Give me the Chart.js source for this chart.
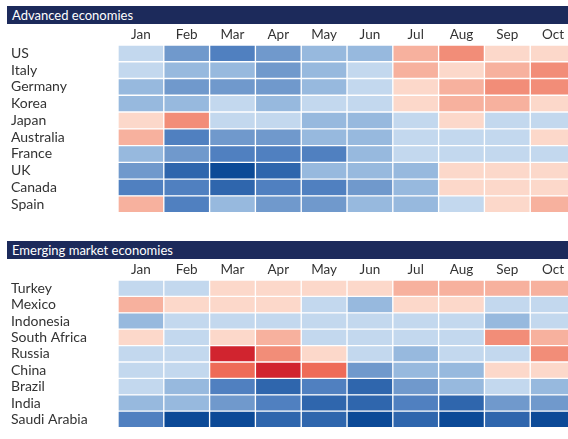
<!DOCTYPE html>
<html>
<head>
<meta charset="utf-8">
<script src="https://cdn.jsdelivr.net/npm/chart.js@4.4.0/dist/chart.umd.min.js"></script>
<style>
    body { margin: 0; width: 568px; height: 439px; overflow: hidden; background: #fff; }
    .bar {
        position: absolute; left: 7px; width: 561px; height: 18px;
        background: #1c2a5b; color: #fff;
        font: 13px Lato, sans-serif; line-height: 18px;
        padding-left: 5px; box-sizing: border-box;
    }
    .box { position: absolute; left: 0; width: 568px; }
</style>
</head>
<body>
<div class="bar" style="top: 6px;">Advanced economies</div>
<div class="box" style="top: 24px; height: 200px;"><canvas id="advancedChart"></canvas></div>
<div class="bar" style="top: 241px;">Emerging market economies</div>
<div class="box" style="top: 259px; height: 180px;"><canvas id="emergingChart"></canvas></div>

<script>
var months = ['Jan', 'Feb', 'Mar', 'Apr', 'May', 'Jun', 'Jul', 'Aug', 'Sep', 'Oct'];

// scores: negative = blue, positive = red
var advancedCountries = ['US', 'Italy', 'Germany', 'Korea', 'Japan', 'Australia', 'France', 'UK', 'Canada', 'Spain'];
var us        = [-1, -3, -4, -3, -2, -2,  2,  3,  1,  1];
var italy     = [-1, -2, -2, -3, -2, -1,  2,  1,  2,  3];
var germany   = [-2, -3, -3, -3, -2, -1,  1,  2,  3,  3];
var korea     = [-2, -2, -1, -2, -1, -1,  1,  2,  2,  1];
var japan     = [ 1,  3, -1, -1, -2, -2, -1,  1, -1, -1];
var australia = [ 2, -4, -3, -3, -2, -2, -1, -1, -1,  1];
var france    = [-2, -3, -4, -4, -4, -2, -1, -1, -1, -1];
var uk        = [-3, -5, -6, -5, -2, -2, -2,  1,  1,  1];
var canada    = [-4, -4, -5, -4, -4, -3, -2,  1,  1,  1];
var spain     = [ 2, -4, -2, -3, -3, -2, -2, -1,  1,  2];

var emergingCountries = ['Turkey', 'Mexico', 'Indonesia', 'South Africa', 'Russia', 'China', 'Brazil', 'India', 'Saudi Arabia'];
var turkey      = [-1, -1,  1,  1,  1,  1,  2,  2,  2,  2];
var mexico      = [ 2,  1,  1,  1, -1, -2,  1,  1, -1, -1];
var indonesia   = [-2, -1, -1, -1, -1, -1, -1, -1, -2, -1];
var southAfrica = [ 1, -1,  1,  2, -1, -1, -1, -1,  3,  2];
var russia      = [-1, -1,  5,  3,  1, -1, -2, -1, -1,  3];
var china       = [-1, -1,  4,  5,  4, -3, -2, -2,  1,  1];
var brazil      = [-1, -2, -4, -5, -4, -5, -3, -2, -1, -2];
var india       = [-2, -2, -3, -4, -5, -5, -4, -5, -3, -3];
var saudiArabia = [-4, -6, -6, -5, -5, -6, -5, -6, -5, -6];

var advancedRows = [us, italy, germany, korea, japan, australia, france, uk, canada, spain];
var emergingRows = [turkey, mexico, indonesia, southAfrica, russia, china, brazil, india, saudiArabia];

var colours = {
    '-6': '#0c4a97', '-5': '#2f66ad', '-4': '#5080c0', '-3': '#7099cc', '-2': '#97b9de', '-1': '#c3d8ee',
    '1': '#fcd8ca', '2': '#f7b19e', '3': '#f28d78', '4': '#ee6b58', '5': '#d1242f'
};

function heatmap(id, countries, rows) {
    var ctx = document.getElementById(id).getContext('2d');
    var datasets = [];
    for (let j = 0; j < months.length; j++) {
        datasets.push({
            label: months[j],
            data: rows.map(function () { return [j, j + 1]; }),
            backgroundColor: rows.map(function (r) { return colours[r[j]]; }),
            borderColor: '#ffffff',
            borderWidth: 1,
            borderSkipped: false,
            grouped: false,
            barPercentage: 1,
            categoryPercentage: 1
        });
    }

    return new Chart(ctx, {
        type: 'bar',
        data: {
            labels: countries,
            datasets: datasets
        },
        options: {
            indexAxis: 'y',
            responsive: true,
            maintainAspectRatio: false,
            animation: false,
            layout: {
                padding: { left: 11, right: 0, top: 0, bottom: 1 }
            },
            scales: {
                x: {
                    type: 'linear',
                    position: 'top',
                    min: 0,
                    max: 9.825,
                    grid: { display: false, drawTicks: false },
                    border: { display: false },
                    afterBuildTicks: function (scale) {
                        scale.ticks = months.map(function (m, i) { return { value: i + 0.5 }; });
                    },
                    afterFit: function (scale) { scale.height = 21; },
                    ticks: {
                        autoSkip: false,
                        maxRotation: 0,
                        padding: 2,
                        color: '#333',
                        font: { family: 'Lato', size: 13.5 },
                        callback: function (v, i) { return months[i]; }
                    }
                },
                y: {
                    grid: { display: false, drawTicks: false },
                    border: { display: false },
                    afterFit: function (scale) { scale.width = 107; },
                    ticks: {
                        autoSkip: false,
                        crossAlign: 'far',
                        color: '#333',
                        font: { family: 'Lato', size: 14 }
                    }
                }
            },
            plugins: {
                legend: { display: false },
                tooltip: { enabled: false }
            }
        }
    });
}

heatmap('advancedChart', advancedCountries, advancedRows);
heatmap('emergingChart', emergingCountries, emergingRows);
</script>
</body>
</html>
